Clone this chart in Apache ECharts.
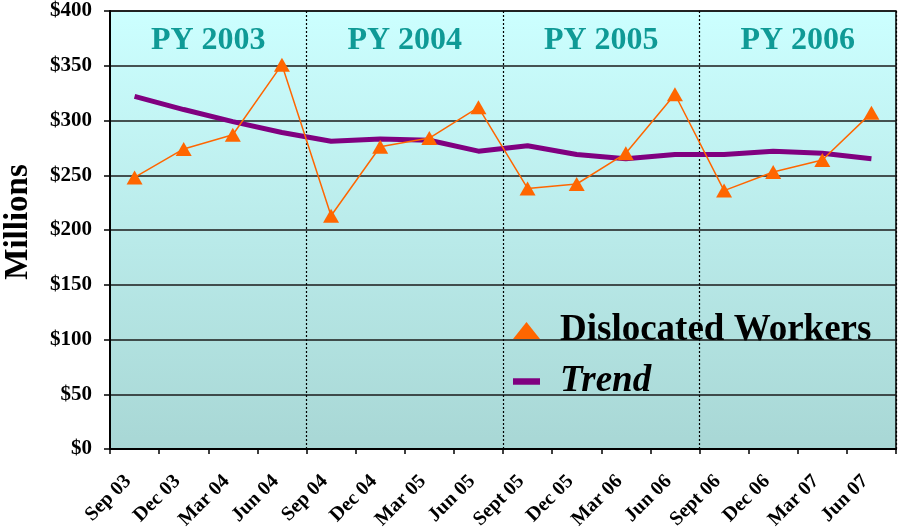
<!DOCTYPE html>
<html>
<head>
<meta charset="utf-8">
<script src="https://cdn.jsdelivr.net/npm/echarts@6/dist/echarts.min.js"></script>
<style>
  html, body { margin: 0; padding: 0; background: #fff; }
  #chart { width: 899px; height: 529px; }
</style>
</head>
<body>
<div id="chart"></div>
<script>
const quarters = ['Sep 03', 'Dec 03', 'Mar 04', 'Jun 04', 'Sep 04', 'Dec 04', 'Mar 05', 'Jun 05',
                  'Sept 05', 'Dec 05', 'Mar 06', 'Jun 06', 'Sept 06', 'Dec 06', 'Mar 07', 'Jun 07'];
const dislocated = [248, 274, 287, 351, 213, 276, 284, 312, 238, 242, 270, 324, 236, 253, 264, 307];
const trend = [322, 310, 299, 289, 281, 283, 282, 272, 277, 269, 265, 269, 269, 272, 270, 265];
const programYears = ['PY 2003', 'PY 2004', 'PY 2005', 'PY 2006'];
const yTicks = [0, 50, 100, 150, 200, 250, 300, 350, 400];

const serif = '"Liberation Serif", "Times New Roman", serif';
const chart = echarts.init(document.getElementById('chart'));

const option = {
    animation: false,
    grid: {
        left: 110, right: 3, top: 11, bottom: 80,
        outerBoundsMode: 'none',
        containLabel: false,
        show: true,
        borderColor: '#000',
        borderWidth: 1.5,
        backgroundColor: {
            type: 'linear', x: 0, y: 0, x2: 0, y2: 1,
            colorStops: [{ offset: 0, color: '#ccffff' }, { offset: 1, color: '#a8d7d5' }]
        }
    },
    xAxis: {
        type: 'category',
        data: quarters,
        boundaryGap: true,
        axisLine: { lineStyle: { color: '#000', width: 2 } },
        axisTick: { show: true, length: 5, lineStyle: { color: '#000', width: 1.5 } },
        axisLabel: {
            rotate: 45, interval: 0, margin: 23, padding: [0, 9, 0, 0],
            color: '#000', fontFamily: serif, fontWeight: 'bold', fontSize: 20
        },
        splitLine: {
            show: true,
            interval: function (index) { return index === 4 || index === 8 || index === 12; },
            lineStyle: { color: '#000', type: [2, 2], width: 1.2 }
        }
    },
    yAxis: {
        type: 'value',
        min: yTicks[0], max: yTicks[yTicks.length - 1], interval: 50,
        name: 'Millions',
        nameLocation: 'middle',
        nameGap: 75,
        nameTextStyle: { color: '#000', fontFamily: serif, fontWeight: 'bold', fontSize: 33, padding: [0, 0, 0, 16] },
        axisLine: { show: true, lineStyle: { color: '#000', width: 2 } },
        axisTick: { show: true, length: 6, lineStyle: { color: '#000', width: 1.5 } },
        axisLabel: {
            margin: 18, color: '#000', fontFamily: serif, fontWeight: 'bold', fontSize: 21,
            formatter: v => '$' + v
        },
        splitLine: { show: true, lineStyle: { color: '#1a1a1a', width: 1.5 } }
    },
    legend: {
        orient: 'vertical',
        left: 508, top: 307,
        itemGap: 14,
        itemWidth: 27, itemHeight: 17,
        data: [
            { name: 'Dislocated Workers', icon: 'triangle',
              textStyle: { fontStyle: 'normal' } },
            { name: 'Trend', icon: 'path://M0,0 h25 v6 h-25 z',
              textStyle: { fontStyle: 'italic' } }
        ],
        textStyle: { color: '#000', fontFamily: serif, fontWeight: 'bold', fontSize: 37, padding: [0, 0, 0, 15] }
    },
    series: [
        {
            name: 'Trend',
            type: 'line',
            data: trend,
            color: '#800080',
            showSymbol: false,
            symbol: 'none',
            lineStyle: { width: 5, color: '#800080' },
            z: 2
        },
        {
            name: 'Dislocated Workers',
            type: 'line',
            data: dislocated,
            color: '#ff6600',
            symbol: 'triangle',
            symbolSize: [16, 14],
            itemStyle: { color: '#ff6600' },
            lineStyle: { width: 1.5, color: '#ff6600' },
            z: 3
        }
    ]
};
chart.setOption(option);

// section headers centred in each program year (4 quarters each)
const headers = programYears.map((label, i) => {
    const a = chart.convertToPixel({ xAxisIndex: 0 }, i * 4 + 1);
    const b = chart.convertToPixel({ xAxisIndex: 0 }, i * 4 + 2);
    const y = chart.convertToPixel({ yAxisIndex: 0 }, 375);
    return {
        type: 'text',
        x: (a + b) / 2, y: y + 2,
        style: {
            text: label, align: 'center', verticalAlign: 'middle',
            fill: '#0f9a96', font: 'bold 32px ' + serif
        },
        z: 10
    };
});
chart.setOption({ graphic: headers });
</script>
</body>
</html>
